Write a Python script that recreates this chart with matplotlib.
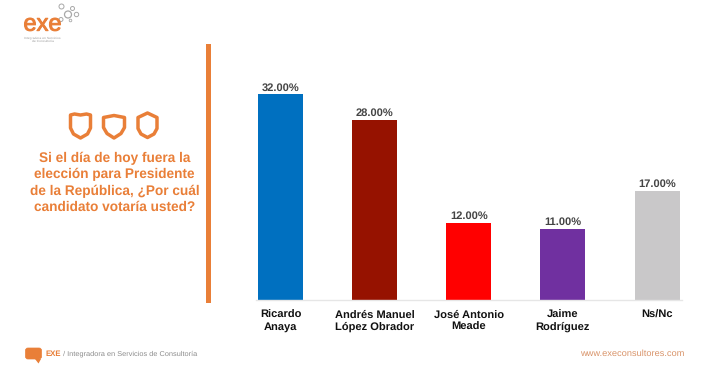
import matplotlib
matplotlib.use("Agg")
import matplotlib.pyplot as plt
import matplotlib.patheffects as pe
from matplotlib.patches import Circle, Polygon, FancyBboxPatch, Rectangle

candidates = ["Ricardo\nAnaya", "Andrés Manuel\nLópez Obrador", "José Antonio\nMeade", "Jaime\nRodríguez", "Ns/Nc"]
values = [32, 28, 12, 11, 17]
colors = ["#0070C0", "#961200", "#FF0000", "#7030A0", "#C9C8C9"]
question = "Si el día de hoy fuera la\nelección para Presidente\nde la República, ¿Por cuál\ncandidato votaría usted?"

ORANGE = "#E97F38"
W, H = 720, 373
plt.rcParams["font.family"] = ["Liberation Sans", "DejaVu Sans"]
plt.rcParams["text.hinting"] = "none"
fig = plt.figure(figsize=(W / 100, H / 100), dpi=100, facecolor="white")

# overlay in pixel coordinates for the slide decoration
bg = fig.add_axes([0, 0, 1, 1])
bg.set_xlim(0, W); bg.set_ylim(H, 0); bg.axis("off")

# chart
left, right, base, top = 256.0, 681.5, 299.5, 60.0
ax = fig.add_axes([left / W, 1 - base / H, (right - left) / W, (base - top) / H])
ax.patch.set_alpha(0)
x = list(range(len(values)))
bars = ax.bar(x, values, width=0.478, color=colors)
ax.set_xlim(-0.26, 4.26)
ax.set_ylim(0, (base - top) / 6.41)
for s in ("top", "left", "right"):
    ax.spines[s].set_visible(False)
ax.spines["bottom"].set_color("#E6E6E6")
ax.spines["bottom"].set_linewidth(1.0)
ax.set_yticks([])
ax.set_xticks(x)
ax.set_xticklabels(candidates, fontsize=8.0, fontweight="bold", color="#111111", linespacing=1.22)
ax.tick_params(axis="x", length=0, pad=7.5)
for b, v in zip(bars, values):
    ax.annotate(f"{v:.2f}%", (b.get_x() + b.get_width() / 2, v), xytext=(0, 1.2),
                textcoords="offset points", ha="center", va="bottom",
                fontsize=8.0, fontweight="bold", color="#444444")

# divider
bg.add_patch(Rectangle((205.5, 44), 5, 259, color=ORANGE, lw=0))

# question
bg.text(114.5, 183, question, ha="center", va="center", fontsize=9.8, fontweight="bold",
        color=ORANGE, linespacing=1.32)

# shields
shield = [(-10, -11), (-6, -12), (0, -11), (6, -12), (10, -11), (10, 2), (7, 8), (0, 12), (-7, 8), (-10, 2)]
shield2 = [(-10.5, -9), (0, -11), (10.5, -9), (10.5, 1), (7, 7), (0, 11.5), (-7, 7), (-10.5, 1)]
shield3 = [(-9.5, -8), (0, -12.5), (9.5, -8), (9.5, 3), (6.5, 8.5), (0, 12), (-6.5, 8.5), (-9.5, 3)]
for cx, cy, pts in [(80.5, 126, shield), (114, 126.5, shield2), (147.5, 125.5, shield3)]:
    bg.add_patch(Polygon([(cx + a, cy + b) for a, b in pts], closed=True, fill=False,
                         ec=ORANGE, lw=2.5, joinstyle="round"))

# logo
bg.text(42.5, 24.5, "exe", ha="center", va="center", fontsize=17, color=ORANGE,
        path_effects=[pe.withStroke(linewidth=0.7, foreground=ORANGE)])
bg.text(42.5, 39.5, "Integradora en Servicios\nde Consultoría", ha="center", va="center",
        fontsize=2.4, color="#999999", linespacing=1.1)
for cx, cy, r, lw in [(61.5, 6.5, 2.5, 0.7), (72.5, 8.5, 2, 0.7), (68, 14.5, 3.5, 0.9),
                      (76.5, 14.5, 2.2, 0.7), (61, 19.5, 2, 0.7), (70.5, 20.5, 1.3, 0.6)]:
    bg.add_patch(Circle((cx, cy), r, fill=False, ec="#A8A8A8", lw=lw))

# footer
bg.add_patch(FancyBboxPatch((25.5, 348), 16, 11, boxstyle="round,pad=0,rounding_size=2.5",
                            fc=ORANGE, ec=ORANGE, lw=0.5))
bg.add_patch(Polygon([(35, 359), (41, 359), (38.5, 363.5)], closed=True, fc=ORANGE, ec="none"))
bg.text(45.5, 353.5, "EXE", ha="left", va="center", fontsize=5.6, fontweight="bold", color=ORANGE)
bg.text(61, 353.5, " / Integradora en Servicios de Consultoría", ha="left", va="center",
        fontsize=5.35, color="#8C8C8C")
bg.text(684, 353.5, "www.execonsultores.com", ha="right", va="center", fontsize=6.7, color="#D9946A")

fig.savefig("out.png", dpi=100, facecolor="white")
